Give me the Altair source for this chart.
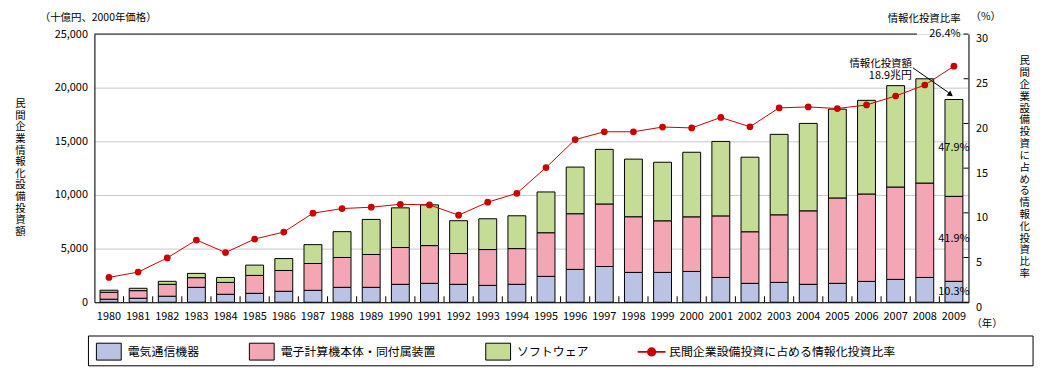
import altair as alt
import pandas as pd

FONT = "Noto Sans CJK JP"

years = [str(y) for y in range(1980, 2010)]
categories = ["電気通信機器", "電子計算機本体・同付属装置", "ソフトウェア"]
line_name = "民間企業設備投資に占める情報化投資比率"

telecom = [280, 370, 560, 1390, 740, 830, 1020, 1110, 1390, 1390,
           1670, 1760, 1670, 1570, 1670, 2410, 3060, 3330, 2780, 2780,
           2870, 2310, 1760, 1850, 1670, 1760, 1940, 2130, 2310, 1950]
computers = [650, 710, 1110, 900, 1110, 1670, 1940, 2500, 2780, 3060,
             3430, 3520, 2870, 3340, 3330, 4070, 5190, 5830, 5190, 4810,
             5090, 5740, 4810, 6300, 6850, 7960, 8150, 8610, 8800, 7920]
software = [190, 220, 280, 400, 460, 960, 1110, 1760, 2410, 3270,
            3700, 3800, 3060, 2870, 3060, 3800, 4350, 5090, 5370, 5460,
            6020, 6940, 6950, 7500, 8150, 8280, 8730, 9450, 9720, 9030]
rate = [2.78, 3.37, 4.96, 6.96, 5.56, 7.07, 7.85, 9.96, 10.48, 10.63,
        10.96, 10.89, 9.74, 11.19, 12.19, 15.07, 18.19, 19.07, 19.07, 19.6,
        19.5, 20.67, 19.63, 21.74, 21.85, 21.67, 22.07, 23.07, 24.3, 26.4]
share_labels = ["10.3%", "41.9%", "47.9%"]
left_ticks = [0, 5000, 10000, 15000, 20000, 25000]
right_ticks = [0, 5, 10, 15, 20, 25, 30]

colors = ["#BAC3E3", "#F3A7B5", "#C5DC96"]
line_color = "#CC0000"

rows = []
for i, yr in enumerate(years):
    for k, (cat, vals) in enumerate(zip(categories, [telecom, computers, software])):
        rows.append({"year": yr, "cat": cat, "ord": k, "value": vals[i]})
bars_df = pd.DataFrame(rows)
rate_df = pd.DataFrame({"year": years, "rate": rate, "cat": line_name})

last_vals = [telecom[-1], computers[-1], software[-1]]
mids, cum = [], 0
for v in last_vals:
    mids.append(cum + v / 2)
    cum += v
share_df = pd.DataFrame({"year": [years[-1]] * 3, "mid": mids, "label": share_labels})

x_scale = alt.Scale(paddingInner=0.386, paddingOuter=0.193)
x_axis = alt.Axis(title=None, labelAngle=0, domainColor="black", ticks=False,
                  labelPadding=8, labelFontSize=11, labelColor="black", labelFont=FONT)
x_enc = alt.X("year:N", sort=years, scale=x_scale, axis=x_axis)

left_axis = alt.Axis(
    values=left_ticks, format=",.0f",
    title=list("民間企業情報化設備投資額"), titleAngle=0, titleX=-75, titleY=65,
    titleBaseline="top", titleAlign="center", titleLineHeight=11.7, titleFontSize=10.5,
    titleFontWeight="normal", titleColor="black", titleFont=FONT,
    ticks=False, labelPadding=7, domainColor="black", labelFontSize=11,
    labelColor="black", labelFont=FONT,
    gridColor={"condition": {"test": "datum.value === 25000", "value": "transparent"},
               "value": "#C8C8C8"},
)
left_scale = alt.Scale(domain=[0, 25000], nice=False)

right_axis = alt.Axis(
    orient="right", values=right_ticks, grid=False,
    title=list(line_name), titleAngle=0, titleX=56, titleY=22,
    titleBaseline="top", titleAlign="center", titleLineHeight=11.9, titleFontSize=10.5,
    titleFontWeight="normal", titleColor="black", titleFont=FONT,
    ticks=False, labelPadding=7, labelOffset=5,
    domainColor="black", labelFontSize=11, labelColor="black", labelFont=FONT,
)
right_scale = alt.Scale(domain=[0, 30], nice=False)

RECT_PATH = "M-1,-0.68H1V0.68H-1Z"
LINE_PATH = "M-1.12,0H1.12M-0.3,0A0.3,0.3,0,1,1,0.3,0A0.3,0.3,0,1,1,-0.3,0Z"

color_enc = alt.Color(
    "cat:N", scale=alt.Scale(domain=categories, range=colors),
    legend=alt.Legend(
        title=None, orient="none", legendX=1.5, legendY=306.5, direction="horizontal",
        columnPadding=47, padding=0, symbolSize=625, symbolType=RECT_PATH,
        labelFontSize=12, labelFont=FONT, labelColor="black", labelOffset=6,
        labelLimit=400, symbolStrokeColor="black", symbolStrokeWidth=1, symbolOpacity=1,
    ),
)

bars = alt.Chart(bars_df).mark_bar(stroke="black", strokeWidth=1, opacity=1).encode(
    x=x_enc,
    y=alt.Y("value:Q", stack="zero", scale=left_scale, axis=left_axis),
    color=color_enc,
    order=alt.Order("ord:Q", sort="ascending"),
)
shares = alt.Chart(share_df).mark_text(fontSize=11, font=FONT, color="black").encode(
    x=x_enc,
    y=alt.Y("mid:Q", scale=left_scale, axis=left_axis),
    text="label:N",
)
# category-boundary ticks on the x axis, pointing up into the plot
x_ticks = alt.Chart(pd.DataFrame({"year": years[1:]})).mark_rule(
    color="black", strokeWidth=1, xOffset=-0.386 * 880 / 30 / 2
).encode(
    x=alt.X("year:N", sort=years, scale=x_scale, axis=x_axis, bandPosition=0),
    y=alt.value(264), y2=alt.value(270),
)
left_layer = alt.layer(bars, shares, x_ticks)

line = alt.Chart(rate_df).mark_line(strokeWidth=1).encode(
    x=x_enc, y=alt.Y("rate:Q", scale=right_scale, axis=right_axis),
    stroke=alt.Stroke(
        "cat:N", scale=alt.Scale(domain=[line_name], range=[line_color]),
        legend=alt.Legend(
            title=None, orient="none", legendX=547.5, legendY=306.5, padding=0,
            symbolSize=625, symbolType=LINE_PATH, symbolFillColor=line_color,
            symbolStrokeWidth=1.8, symbolOpacity=1, labelLimit=500,
            labelFontSize=12, labelFont=FONT, labelColor="black", labelOffset=4,
        ),
    ),
)
points = alt.Chart(rate_df).mark_circle(size=46, opacity=1, color=line_color).encode(
    x=x_enc, y=alt.Y("rate:Q", scale=right_scale, axis=right_axis)
)
# right-axis ticks pointing inward
r_ticks = alt.Chart(pd.DataFrame({"t": right_ticks})).mark_rule(color="black").encode(
    y=alt.Y("t:Q", scale=right_scale, axis=right_axis),
    x=alt.value(875), x2=alt.value(880),
)
right_layer = alt.layer(line, points, r_ticks)

one = pd.DataFrame({"a": [0]})


def label(txt, x, y, align="left", size=11):
    return alt.Chart(one).mark_text(
        text=txt, align=align, baseline="middle", fontSize=size, font=FONT, color="black"
    ).encode(x=alt.value(x), y=alt.value(y))


top_border = alt.Chart(one).mark_rule(color="black", strokeWidth=1).encode(
    x=alt.value(0), x2=alt.value(828), y=alt.value(0)
)
legend_box = alt.Chart(one).mark_rect(fill="transparent", stroke="black", strokeWidth=1).encode(
    x=alt.value(-6), x2=alt.value(945), y=alt.value(304), y2=alt.value(334)
)
arrow_line = alt.Chart(one).mark_rule(color="black", strokeWidth=1).encode(
    x=alt.value(824), y=alt.value(34), x2=alt.value(860), y2=alt.value(59)
)
arrow_head = alt.Chart(one).mark_point(
    shape="triangle-up", filled=True, size=40, angle=126, color="black", opacity=1
).encode(x=alt.value(862), y=alt.value(61))

texts = [
    label("（十億円、2000年価格）", -55, -16, size=10.5),
    label("情報化投資比率", 872, -15, align="right", size=10.5),
    label("（%）", 882, -17, size=10.5),
    label(f"{rate[-1]}%", 872, 0, align="right"),
    label("情報化投資額", 823, 30, align="right", size=10.5),
    label("18.9兆円", 823, 42, align="right"),
    label("（年）", 883, 292, size=10.5),
]

chart = alt.layer(
    left_layer, right_layer, top_border, legend_box, arrow_line, arrow_head, *texts
).resolve_scale(y="independent").properties(
    width=880, height=270,
    autosize=alt.AutoSizeParams(type="none"),
    padding={"left": 87, "top": 25, "right": 72, "bottom": 67},
).configure_view(stroke=None).configure(font=FONT)

chart.save("out.html", embed_options={"renderer": "svg", "actions": False})
